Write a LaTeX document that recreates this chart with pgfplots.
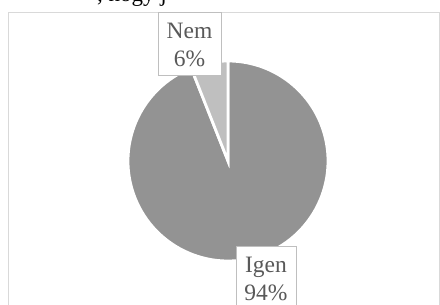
\documentclass[border=0pt]{standalone}
\usepackage{fontspec}
\setmainfont{Liberation Serif}
\usepackage{pgfplots}
\pgfplotsset{compat=1.18}
\definecolor{bigslice}{RGB}{147,147,147}
\definecolor{smallslice}{RGB}{191,191,191}
\definecolor{labtext}{RGB}{89,89,89}
\definecolor{boxline}{RGB}{191,191,191}
\definecolor{frameline}{RGB}{217,217,217}
\begin{document}
\begin{tikzpicture}
\useasboundingbox (0,0) rectangle (440pt,305pt);
\clip (0,0) rectangle (440pt,305pt);
\begin{axis}[x=1pt,y=1pt,xmin=0,xmax=440,ymin=0,ymax=305,
  hide axis,scale only axis,at={(0,0)},anchor=south west,clip=false]
% data
\def\valIgen{94}
\def\valNem{6}
\pgfmathsetmacro{\aNem}{90+3.6*\valNem}
\pgfmathsetmacro{\aEnd}{\aNem+3.6*\valIgen}
% frame
\draw[frameline,line width=1pt] (axis cs:8.5,-10) -- (axis cs:8.5,292.5) -- (axis cs:439.5,292.5) -- (axis cs:439.5,-10);
% slices
\fill[bigslice,draw=white,line width=2.8pt] (axis cs:228,144) -- ++(\aNem:100pt) arc[start angle=\aNem,end angle=\aEnd,radius=100pt] -- cycle;
\fill[smallslice,draw=white,line width=2.8pt] (axis cs:228,144) -- ++(90:100pt) arc[start angle=90,end angle=\aNem,radius=100pt] -- cycle;
% labels
\node[draw=boxline,fill=white,line width=1pt,text=labtext,align=center,
  minimum width=63pt,minimum height=63pt,inner sep=0pt,
  font=\fontsize{23.5}{28}\selectfont] at (axis cs:189.5,260.5) {Nem\\6\%};
\node[draw=boxline,fill=white,line width=1pt,text=labtext,align=center,
  minimum width=60pt,minimum height=63pt,inner sep=0pt,
  font=\fontsize{23.5}{28}\selectfont] at (axis cs:266,26.5) {Igen\\94\%};
% top text (clipped, as in the reference)
\node[anchor=base west,inner sep=0pt,font=\fontsize{23}{27.5}\selectfont] at (axis cs:97,303) {, hogy j};
\end{axis}
\end{tikzpicture}
\end{document}
